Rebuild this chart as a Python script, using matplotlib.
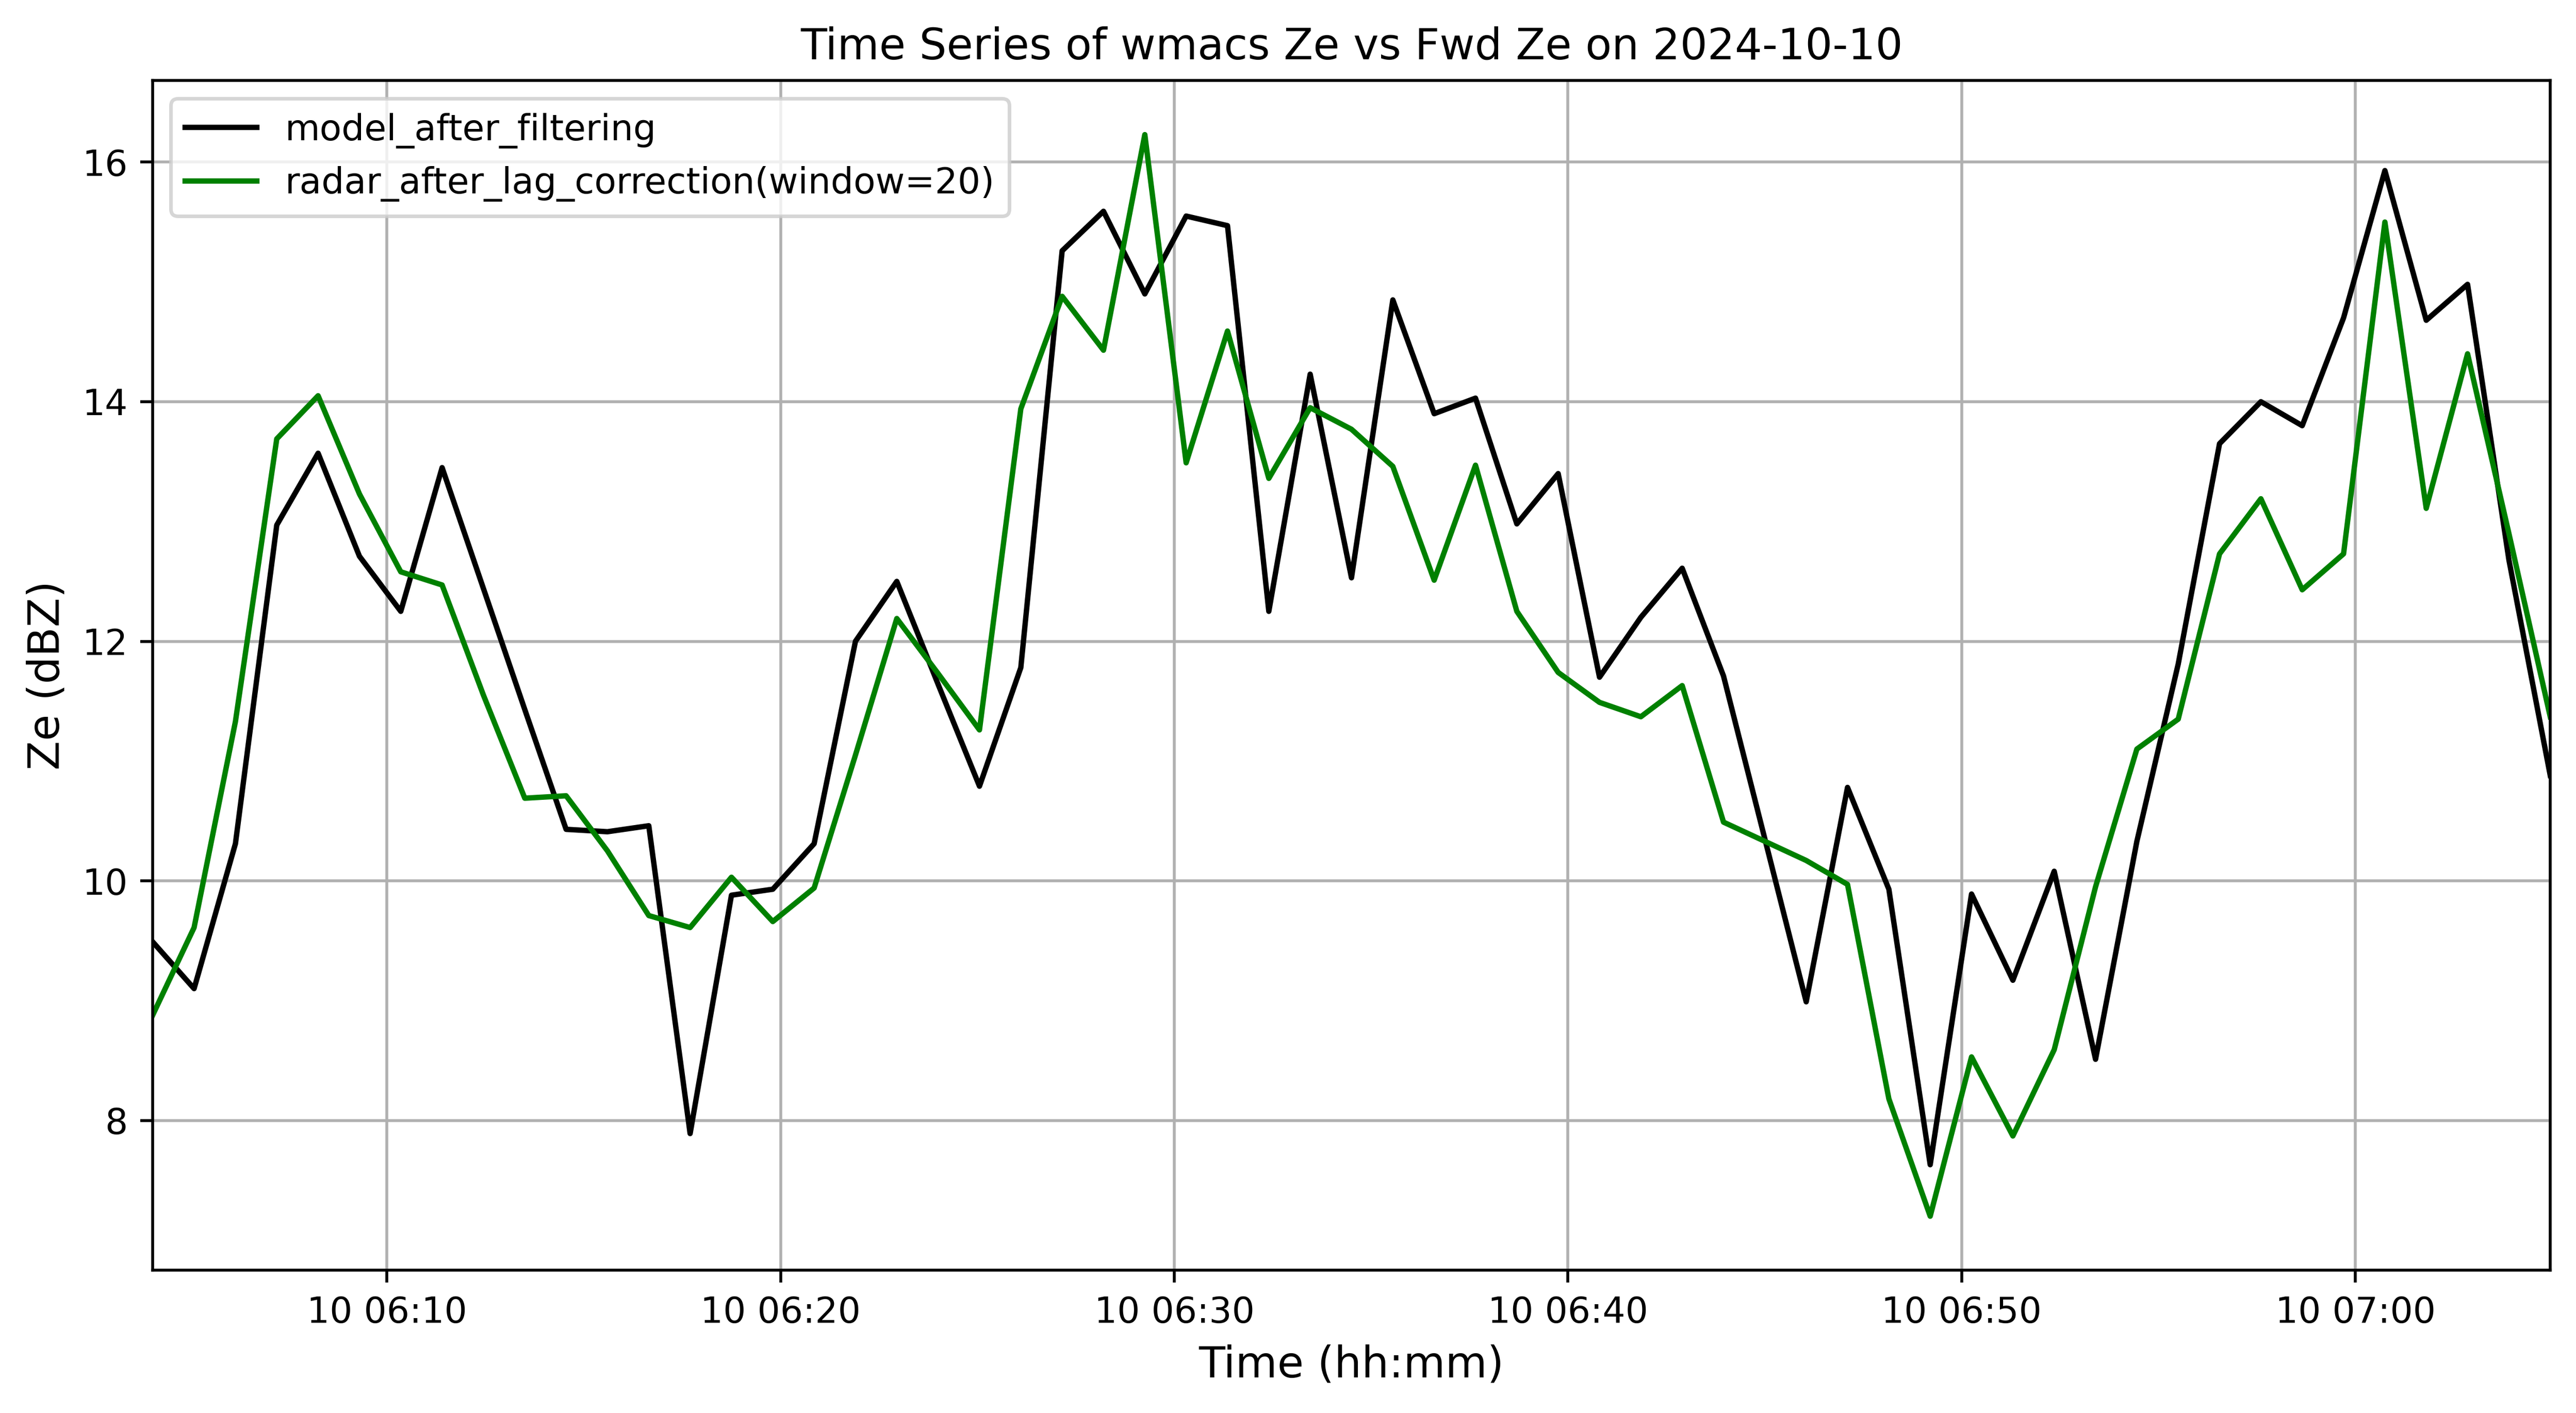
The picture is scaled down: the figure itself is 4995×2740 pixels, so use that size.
import numpy as np
import pandas as pd
import matplotlib
matplotlib.use("Agg")
import matplotlib.pyplot as plt

# time stamps (about one sample every 63 s)
times = pd.date_range("2024-10-10 06:04:03", periods=59, freq="63s")

model_ze = [9.49, 9.10, 10.31, 12.97, 13.57, 12.71, 12.25, 13.45, 12.44, 11.43,
            10.43, 10.41, 10.46, 7.89, 9.88, 9.93, 10.31, 12.00, 12.50, 11.64,
            10.79, 11.78, 15.26, 15.59, 14.90, 15.55, 15.47, 12.25, 14.23, 12.53,
            14.85, 13.90, 14.03, 12.98, 13.40, 11.70, 12.20, 12.61, 11.71, 10.35,
            8.99, 10.78, 9.93, 7.63, 9.89, 9.17, 10.08, 8.51, 10.33, 11.81,
            13.65, 14.00, 13.80, 14.70, 15.93, 14.68, 14.98, 12.68, 10.88]

radar_ze = [8.88, 9.61, 11.33, 13.69, 14.05, 13.23, 12.58, 12.47, 11.55, 10.69,
            10.71, 10.25, 9.71, 9.61, 10.03, 9.66, 9.94, 11.05, 12.19, 11.73,
            11.26, 13.94, 14.88, 14.43, 16.23, 13.49, 14.59, 13.36, 13.95, 13.77,
            13.46, 12.51, 13.47, 12.25, 11.74, 11.49, 11.37, 11.63, 10.49, 10.33,
            10.17, 9.97, 8.18, 7.20, 8.53, 7.87, 8.59, 9.95, 11.10, 11.35,
            12.73, 13.19, 12.43, 12.73, 15.50, 13.11, 14.40, 12.90, 11.37]

fig, ax = plt.subplots(figsize=(9.99, 5.48), dpi=500)
ax.plot(times, model_ze, color="black", label="model_after_filtering")
ax.plot(times, radar_ze, color="green", label="radar_after_lag_correction(window=20)")
ax.set_xlim(times[0], times[-1])

ax.set_title("Time Series of wmacs Ze vs Fwd Ze on 2024-10-10", fontsize=12)
ax.set_xlabel("Time (hh:mm)", fontsize=12)
ax.set_ylabel("Ze (dBZ)", fontsize=12)
ax.legend(loc="upper left")
ax.grid(True)

plt.subplots_adjust(left=0.0593, right=0.99, top=0.943, bottom=0.101)
plt.savefig("out.png", dpi=500)
